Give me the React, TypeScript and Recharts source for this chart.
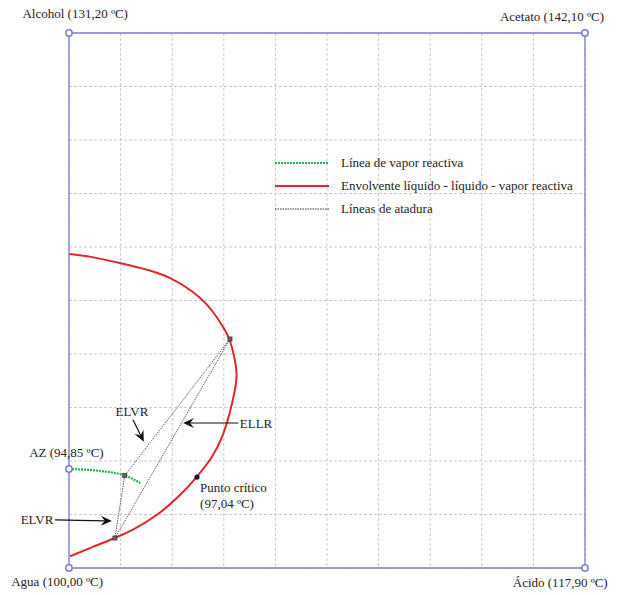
import React from 'react';
import {
  ComposedChart,
  Line,
  Scatter,
  XAxis,
  YAxis,
  CartesianGrid,
  ReferenceLine,
  ReferenceDot,
} from 'recharts';

// grid ticks (fraction, both axes)
const ticks = [0, 0.1, 0.2, 0.3, 0.4, 0.5, 0.6, 0.7, 0.8, 0.9, 1];

// envolvente líquido - líquido - vapor reactiva
const envelope = [
  { x: 0.001, y: 0.587 },
  { x: 0.05, y: 0.581 },
  { x: 0.099, y: 0.57 },
  { x: 0.157, y: 0.557 },
  { x: 0.202, y: 0.541 },
  { x: 0.24, y: 0.517 },
  { x: 0.267, y: 0.494 },
  { x: 0.287, y: 0.469 },
  { x: 0.302, y: 0.445 },
  { x: 0.312, y: 0.428 },
  { x: 0.322, y: 0.389 },
  { x: 0.326, y: 0.361 },
  { x: 0.322, y: 0.333 },
  { x: 0.312, y: 0.29 },
  { x: 0.298, y: 0.245 },
  { x: 0.279, y: 0.208 },
  { x: 0.248, y: 0.17 },
  { x: 0.215, y: 0.135 },
  { x: 0.17, y: 0.097 },
  { x: 0.124, y: 0.071 },
  { x: 0.089, y: 0.056 },
  { x: 0.045, y: 0.039 },
  { x: 0.002, y: 0.022 },
];

// línea de vapor reactiva (from the azeotrope)
const vaporLine = [
  { x: 0, y: 0.185 },
  { x: 0.054, y: 0.182 },
  { x: 0.108, y: 0.173 },
  { x: 0.138, y: 0.159 },
];

// tie triangle: L1 -> V -> L2 -> L1
const tieLines = [
  { x: 0.312, y: 0.428 },
  { x: 0.108, y: 0.173 },
  { x: 0.089, y: 0.056 },
  { x: 0.312, y: 0.428 },
];

const tieVertices = [
  { x: 0.312, y: 0.428 },
  { x: 0.108, y: 0.173 },
  { x: 0.089, y: 0.056 },
];

const criticalPoint = { x: 0.248, y: 0.17 };

// pure components / azeotrope markers
const vertices = [
  { x: 0, y: 1 },
  { x: 1, y: 1 },
  { x: 0, y: 0 },
  { x: 1, y: 0 },
  { x: 0, y: 0.185 },
];

const labels = [
  { text: 'Alcohol (131,20 ºC)', x: 0.012, y: 1.036, anchor: 'middle' },
  { text: 'Acetato (142,10 ºC)', x: 0.936, y: 1.031, anchor: 'middle' },
  { text: 'Agua (100,00 ºC)', x: -0.023, y: -0.026, anchor: 'middle' },
  { text: 'Ácido (117,90 ºC)', x: 0.952, y: -0.028, anchor: 'middle' },
  { text: 'AZ (94,85 ºC)', x: -0.005, y: 0.215, anchor: 'middle' },
  { text: 'Punto crítico', x: 0.254, y: 0.151, anchor: 'start' },
  { text: '(97,04 ºC)', x: 0.254, y: 0.12, anchor: 'start' },
  { text: 'ELVR', x: 0.122, y: 0.292, anchor: 'middle' },
  { text: 'ELLR', x: 0.331, y: 0.271, anchor: 'start' },
  { text: 'ELVR', x: -0.062, y: 0.09, anchor: 'middle' },
];

const arrows = [
  { from: { x: 0.124, y: 0.277 }, to: { x: 0.145, y: 0.236 } },
  { from: { x: 0.328, y: 0.271 }, to: { x: 0.221, y: 0.271 } },
  { from: { x: -0.027, y: 0.09 }, to: { x: 0.083, y: 0.088 } },
];

const legendItems = [
  { name: 'Línea de vapor reactiva', color: '#22b14c', width: 2, dash: '2 1' },
  { name: 'Envolvente líquido - líquido - vapor reactiva', color: '#e0262b', width: 2, dash: undefined },
  { name: 'Líneas de atadura', color: '#333', width: 1, dash: '1.5 1' },
];

const FONT = '"Liberation Serif", "Times New Roman", serif';
const BORDER = '#7c7cd4';

const ArrowShape = (props: any) => {
  const { x1, y1, x2, y2 } = props;
  if ([x1, y1, x2, y2].some((v) => typeof v !== 'number')) return null;
  const ang = Math.atan2(y2 - y1, x2 - x1);
  const len = 11;
  const half = 5;
  const bx = x2 - len * Math.cos(ang);
  const by = y2 - len * Math.sin(ang);
  const nx = -Math.sin(ang);
  const ny = Math.cos(ang);
  const notch = 4;
  const mx = x2 - (len - notch) * Math.cos(ang);
  const my = y2 - (len - notch) * Math.sin(ang);
  const pts = `${x2},${y2} ${bx + nx * half},${by + ny * half} ${mx},${my} ${bx - nx * half},${by - ny * half}`;
  return (
    <g>
      <line x1={x1} y1={y1} x2={mx} y2={my} stroke="#111" strokeWidth={1.2} />
      <polygon points={pts} fill="#111" />
    </g>
  );
};

const Square = (props: any) => {
  const { cx, cy } = props;
  return <rect x={cx - 2} y={cy - 2} width={4} height={4} fill="#666" stroke="#333" strokeWidth={0.8} />;
};

// legend drawn over the plot, upper middle
const ChartLegend = () => (
  <div style={{ position: 'absolute', left: 275, top: 151, fontFamily: FONT, fontSize: 13, color: '#222' }}>
    {legendItems.map((item) => (
      <div key={item.name} style={{ display: 'flex', alignItems: 'center', height: 23 }}>
        <svg width={54} height={6}>
          <line x1={0} y1={3} x2={54} y2={3} stroke={item.color} strokeWidth={item.width} strokeDasharray={item.dash} />
        </svg>
        <span style={{ marginLeft: 12, whiteSpace: 'nowrap' }}>{item.name}</span>
      </div>
    ))}
  </div>
);

export default function App() {
  return (
    <div style={{ position: 'absolute', left: 0, top: 0, width: 622, height: 595, background: '#fff' }}>
      <ComposedChart width={622} height={595} margin={{ top: 33, right: 37, bottom: 27, left: 69 }}>
        <XAxis type="number" dataKey="x" domain={[0, 1]} ticks={ticks} hide />
        <YAxis type="number" dataKey="y" domain={[0, 1]} ticks={ticks} hide />
        <CartesianGrid stroke="#c9c9c9" strokeDasharray="3 2" />

        <ReferenceLine x={0} stroke={BORDER} strokeWidth={1.3} />
        <ReferenceLine x={1} stroke={BORDER} strokeWidth={1.3} />
        <ReferenceLine y={0} stroke={BORDER} strokeWidth={1.3} />
        <ReferenceLine y={1} stroke={BORDER} strokeWidth={1.3} />

        <Line data={tieLines} dataKey="y" type="linear" stroke="#333" strokeWidth={0.8} strokeDasharray="1.5 1" dot={false} isAnimationActive={false} />
        <Line data={envelope} dataKey="y" type="basis" stroke="#e0262b" strokeWidth={2} dot={false} isAnimationActive={false} />
        <Line data={vaporLine} dataKey="y" type="monotone" stroke="#22b14c" strokeWidth={2.2} strokeDasharray="2 1" dot={false} isAnimationActive={false} />
        <Scatter data={tieVertices} shape={<Square />} isAnimationActive={false} />
        <ReferenceDot x={criticalPoint.x} y={criticalPoint.y} r={2.6} fill="#111" stroke="none" />

        {vertices.map((v, i) => (
          <ReferenceDot key={`v${i}`} x={v.x} y={v.y} r={3.2} fill="#fff" stroke={BORDER} strokeWidth={1.5} ifOverflow="visible" />
        ))}

        {arrows.map((a, i) => (
          <ReferenceLine key={`a${i}`} segment={[a.from, a.to]} shape={ArrowShape} ifOverflow="visible" />
        ))}

        {labels.map((l, i) => (
          <ReferenceDot
            key={`l${i}`}
            x={l.x}
            y={l.y}
            ifOverflow="visible"
            shape={(p: any) => (
              <text x={p.cx} y={p.cy} textAnchor={l.anchor as any} dominantBaseline="central" fontFamily={FONT} fontSize={13} fill="#222">
                {l.text}
              </text>
            )}
          />
        ))}
      </ComposedChart>
      <ChartLegend />
    </div>
  );
}
